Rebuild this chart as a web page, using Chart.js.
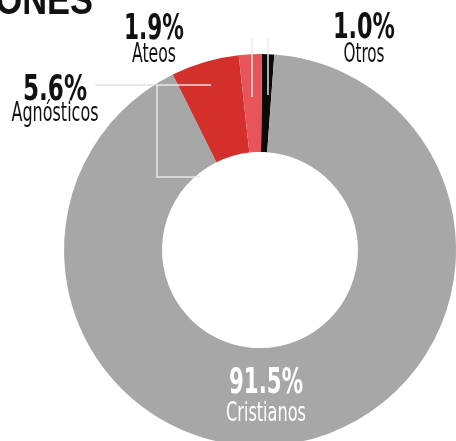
<!DOCTYPE html>
<html>
<head>
<meta charset="utf-8">
<script src="https://cdn.jsdelivr.net/npm/chart.js@4"></script>
<style>
  html, body { margin: 0; padding: 0; background: #ffffff; overflow: hidden; }
  #wrap { position: absolute; left: 0; top: 0; width: 520px; height: 500px; }
</style>
</head>
<body>
<div id="wrap"><canvas id="chart" width="520" height="500"></canvas></div>
<script>
// Religiones - share of population (doughnut)
// Order follows the ring clockwise from the top
const categories = ['Otros', 'Cristianos', 'Agnósticos', 'Ateos'];
const values = [1.0, 91.5, 5.6, 1.9];
const valueLabels = ['1.0%', '91.5%', '5.6%', '1.9%'];
const colors = ['#0b0b0b', '#a7a7a7', '#d3302b', '#e7555a'];

const FONT = '"Liberation Sans Narrow", "DejaVu Sans Condensed", "Liberation Sans", sans-serif';

// Draw text squeezed to a given width (the original uses a tall condensed face)
function fitText(ctx, text, cx, baseline, width, font, color) {
  ctx.save();
  ctx.font = font;
  ctx.fillStyle = color;
  ctx.textAlign = 'center';
  ctx.textBaseline = 'alphabetic';
  const w = ctx.measureText(text).width;
  const sx = Math.min(1, width / w);
  ctx.translate(cx, baseline);
  ctx.scale(sx, 1);
  ctx.fillText(text, 0, 0);
  ctx.restore();
}

// Label placement for each slice (layout only)
const labelSpots = {
  'Otros':      { x: 364, num: 38,  name: 62,  wNum: 62, wName: 41, color: '#111111' },
  'Cristianos': { x: 266, num: 393, name: 421, wNum: 74, wName: 80, color: '#ffffff' },
  'Agnósticos': { x: 55,  num: 100, name: 121, wNum: 64, wName: 87, color: '#111111' },
  'Ateos':      { x: 154, num: 39,  name: 62,  wNum: 60, wName: 44, color: '#111111' }
};

const leaderPlugin = {
  id: 'leaders',
  afterDatasetsDraw(chart) {
    const ctx = chart.ctx;
    ctx.save();
    ctx.lineWidth = 1.5;
    // faint part over the white page
    ctx.strokeStyle = 'rgba(215,215,215,0.7)';
    ctx.beginPath();
    ctx.moveTo(95, 85); ctx.lineTo(157, 85);
    ctx.stroke();
    // light lines over the ring
    ctx.strokeStyle = 'rgba(236,236,236,0.95)';
    ctx.beginPath();
    ctx.moveTo(211, 85); ctx.lineTo(157, 85); ctx.lineTo(157, 177); ctx.lineTo(200, 177);
    ctx.moveTo(252, 38); ctx.lineTo(252, 97);
    ctx.moveTo(268, 38); ctx.lineTo(268, 95);
    ctx.stroke();
    ctx.restore();
  }
};

const labelPlugin = {
  id: 'sliceLabels',
  afterDraw(chart) {
    const ctx = chart.ctx;
    categories.forEach((name, i) => {
      const s = labelSpots[name];
      fitText(ctx, valueLabels[i], s.x, s.num, s.wNum, 'bold 36px ' + FONT, s.color);
      fitText(ctx, name, s.x, s.name, s.wName, '26px ' + FONT, s.color);
    });
    // cut-off heading at the top left
    ctx.save();
    ctx.font = 'bold 42px "Liberation Sans", "DejaVu Sans", sans-serif';
    ctx.fillStyle = '#111111';
    ctx.textAlign = 'right';
    ctx.translate(93, 14);
    ctx.scale(0.82, 1);
    ctx.fillText('RELIGIONES', 0, 0);
    ctx.restore();
  }
};

new Chart(document.getElementById('chart'), {
  type: 'doughnut',
  data: {
    labels: categories,
    datasets: [{
      data: values,
      backgroundColor: colors,
      borderWidth: 0,
      hoverOffset: 0
    }]
  },
  options: {
    responsive: false,
    animation: false,
    rotation: 0.6,
    cutout: '50%',
    layout: { padding: { left: 64, right: 64, top: 54, bottom: 54 } },
    events: [],
    plugins: {
      legend: { display: false },
      tooltip: { enabled: false }
    }
  },
  plugins: [leaderPlugin, labelPlugin]
});
</script>
</body>
</html>
